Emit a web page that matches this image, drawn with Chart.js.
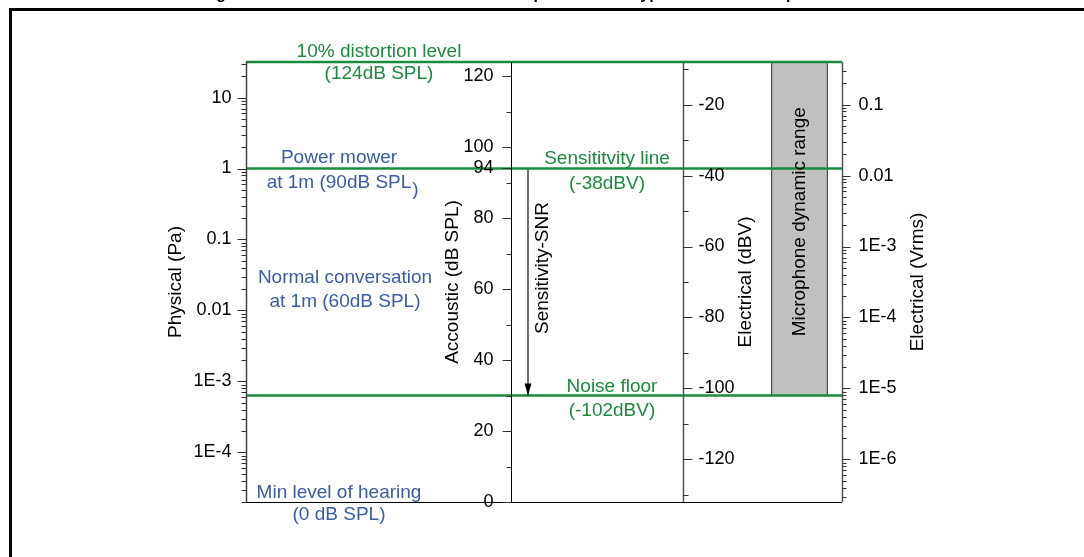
<!DOCTYPE html>
<html>
<head>
<meta charset="utf-8">
<script src="https://cdn.jsdelivr.net/npm/chart.js@4/dist/chart.umd.min.js"></script>
<style>
body{margin:0;background:#fff;width:1084px;height:557px;overflow:hidden;position:relative}
#frame{position:absolute;left:9px;top:8px;width:1200px;height:700px;border-left:3px solid #000;border-top:3px solid #000}
#chart{position:absolute;left:0;top:0}
</style>
</head>
<body>
<div id="frame"></div>
<canvas id="chart" width="1084" height="557"></canvas>
<script>
// levels, in dB SPL
const splRange = [0, 124]
const sensitivitySpl = 94
const sensitivityDbv = -38
const levelSpl = [124, 94, 30]
const levelTitles = ["10% distortion level", "Sensititvity line", "Noise floor"]
const levelNotes = ["(124dB SPL)", "(-38dBV)", "(-102dBV)"]
const exampleSpl = [90, 60, 0]
const exampleTitles = ["Power mower", "Normal conversation", "Min level of hearing"]
const exampleNotes = ["at 1m (90dB SPL)", "at 1m (60dB SPL)", "(0 dB SPL)"]
const dynamicRange = [30, 124]
const snrRange = [94, 30]

// tick labels
const paTicks = [1e-4, 1e-3, 0.01, 0.1, 1, 10]
const paLabels = ["1E-4", "1E-3", "0.01", "0.1", "1", "10"]
const splTicks = [0, 20, 40, 60, 80, 94, 100, 120]
const splMinor = [10, 30, 50, 70, 90, 110]
const dbvTicks = [-120, -100, -80, -60, -40, -20]
const dbvMinor = [-130, -110, -90, -70, -50, -30, -10]
const vrmsTicks = [1e-6, 1e-5, 1e-4, 1e-3, 0.01, 0.1]
const vrmsLabels = ["1E-6", "1E-5", "1E-4", "1E-3", "0.01", "0.1"]

const caption = "Figure 3. Acoustic and electrical levels comparison for a typical MEMS microphone"

// unit conversions for the four vertical scales
const dbvOffset = sensitivityDbv - sensitivitySpl
const paFromSpl = s => 20e-6 * Math.pow(10, s / 20)
const vFromDbv = d => Math.pow(10, d / 20)

// layout (x in chart units, chart area is 596 wide)
const L = {
  splAxisX: 265, dbvAxisX: 437, arrowX: 282, barX: 553.5, barW: 56,
  levelX: [133, 361, 366], levelDy: [[-10.5, 11.5], [-10, 15], [-9, 15]],
  exampleX: [93, 99, 93], exampleDy: [[-25, 0], [-11, 13], [-9, 13]]
}

const GREEN = "#1b8a3e"
const BLUE = "#3b5ba7"
const FONT = "'Liberation Sans', Arial, sans-serif"

function logMinor(min, max) {
  let out = []
  for (let e = Math.floor(Math.log10(min)); e <= Math.ceil(Math.log10(max)); e++) {
    for (let k = 2; k <= 9; k++) {
      let v = k * Math.pow(10, e)
      if (v >= min * 0.999 && v <= max * 1.001) out.push(v)
    }
  }
  return out
}

const axes = [
  {id: "yPa", at: c => c.chartArea.left, side: -1, ticks: paTicks, labels: paLabels,
   minor: logMinor(paFromSpl(splRange[0]), paFromSpl(splRange[1])), color: "#444", width: 1.5,
   major: 9, small: 5, gap: 15, title: "Physical (Pa)", titleDx: -71},
  {id: "yS", at: c => c.scales.x.getPixelForValue(L.splAxisX), side: -1, ticks: splTicks,
   labels: splTicks.map(String), minor: splMinor, color: "#000", width: 1,
   major: 9, small: 5, gap: 18, title: "Accoustic (dB SPL)", titleDx: -59},
  {id: "yDbv", at: c => c.scales.x.getPixelForValue(L.dbvAxisX), side: 1, ticks: dbvTicks,
   labels: dbvTicks.map(String), minor: dbvMinor, color: "#555", width: 1.5,
   major: 9, small: 5, gap: 15, title: "Electrical (dBV)", titleDx: 62},
  {id: "yV", at: c => c.chartArea.right, side: 1, ticks: vrmsTicks, labels: vrmsLabels,
   minor: logMinor(vFromDbv(splRange[0] + dbvOffset), vFromDbv(splRange[1] + dbvOffset)),
   color: "#555", width: 1.5, major: 8, small: 4, gap: 16, title: "Electrical (Vrms)", titleDx: 75}
]

function vText(ctx, text, x, y) {
  ctx.save()
  ctx.translate(x, y)
  ctx.rotate(-Math.PI / 2)
  ctx.fillText(text, 0, 0)
  ctx.restore()
}

const axesPlugin = {
  id: "axes",
  afterDraw(chart) {
    const ctx = chart.ctx
    const area = chart.chartArea
    const mid = (area.top + area.bottom) / 2
    ctx.save()
    ctx.lineWidth = 1
    ctx.strokeStyle = "#000"
    ctx.beginPath()
    ctx.moveTo(area.left, Math.round(area.bottom) + 0.5)
    ctx.lineTo(area.right, Math.round(area.bottom) + 0.5)
    ctx.stroke()
    axes.forEach(a => {
      const scale = chart.scales[a.id]
      const x = Math.round(a.at(chart)) + 0.5
      ctx.strokeStyle = a.color
      ctx.lineWidth = a.width
      ctx.beginPath()
      ctx.moveTo(x, area.top)
      ctx.lineTo(x, area.bottom)
      ctx.stroke()
      ctx.lineWidth = 1
      ctx.strokeStyle = "#333"
      ctx.beginPath()
      a.minor.forEach(v => {
        const y = Math.round(scale.getPixelForValue(v)) + 0.5
        ctx.moveTo(x, y)
        ctx.lineTo(x + a.side * a.small, y)
      })
      a.ticks.forEach(v => {
        const y = Math.round(scale.getPixelForValue(v)) + 0.5
        ctx.moveTo(x, y)
        ctx.lineTo(x + a.side * a.major, y)
      })
      ctx.stroke()
      ctx.fillStyle = "#000"
      ctx.font = "18px " + FONT
      ctx.textBaseline = "middle"
      ctx.textAlign = a.side < 0 ? "right" : "left"
      a.ticks.forEach((v, i) => {
        ctx.fillText(a.labels[i], x + a.side * a.gap, scale.getPixelForValue(v))
      })
      ctx.font = "19px " + FONT
      ctx.textAlign = "center"
      vText(ctx, a.title, x + a.titleDx, mid)
    })
    ctx.restore()
  }
}

const textPlugin = {
  id: "notes",
  afterDraw(chart) {
    const ctx = chart.ctx
    const xs = chart.scales.x
    const ys = chart.scales.yS
    ctx.save()
    ctx.font = "19px " + FONT
    ctx.textAlign = "center"
    ctx.textBaseline = "middle"

    ctx.fillStyle = GREEN
    levelSpl.forEach((s, i) => {
      const x = xs.getPixelForValue(L.levelX[i])
      const y = ys.getPixelForValue(s)
      ctx.fillText(levelTitles[i], x, y + L.levelDy[i][0])
      ctx.fillText(levelNotes[i], x, y + L.levelDy[i][1])
    })

    ctx.fillStyle = BLUE
    exampleSpl.forEach((s, i) => {
      const x = xs.getPixelForValue(L.exampleX[i])
      const y = ys.getPixelForValue(s)
      ctx.fillText(exampleTitles[i], x, y + L.exampleDy[i][0])
      let note = exampleNotes[i]
      if (i == 0) {
        // the closing bracket sits a bit low in the original
        const body = note.slice(0, -1)
        const w = ctx.measureText(body).width
        ctx.fillText(body, x, y + L.exampleDy[i][1])
        ctx.textAlign = "left"
        ctx.fillText(")", x + w / 2 + 1, y + L.exampleDy[i][1] + 7)
        ctx.textAlign = "center"
      } else {
        ctx.fillText(note, x, y + L.exampleDy[i][1])
      }
    })

    ctx.fillStyle = "#000"
    const barTop = ys.getPixelForValue(dynamicRange[1])
    const barBottom = ys.getPixelForValue(dynamicRange[0])
    vText(ctx, "Microphone dynamic range", xs.getPixelForValue(L.barX), (barTop + barBottom) / 2 - 7)

    // arrow head at the end of the SNR line
    const meta = chart.getDatasetMeta(levelSpl.length)
    const end = meta.data[1]
    ctx.beginPath()
    ctx.moveTo(end.x, end.y)
    ctx.lineTo(end.x - 3.5, end.y - 12)
    ctx.lineTo(end.x + 3.5, end.y - 12)
    ctx.closePath()
    ctx.fill()
    const start = meta.data[0]
    vText(ctx, "Sensitivity-SNR", end.x + 15, (start.y + end.y) / 2 - 14)

    ctx.font = "bold 16px " + FONT
    ctx.textBaseline = "alphabetic"
    ctx.fillText(caption, 518, -1.5)
    ctx.restore()
  }
}

const lineSets = levelSpl.map(s => ({
  data: [{x: 0, y: s}, {x: 596, y: s}],
  yAxisID: "yS",
  borderColor: GREEN,
  borderWidth: 2.5,
  pointRadius: 0,
  clip: false
}))

new Chart(document.getElementById("chart"), {
  type: "line",
  data: {
    datasets: [
      ...lineSets,
      {
        data: [{x: L.arrowX, y: snrRange[0]}, {x: L.arrowX, y: snrRange[1]}],
        yAxisID: "yS",
        borderColor: "#111",
        borderWidth: 1.2,
        pointRadius: 0
      },
      {
        type: "bar",
        data: [{x: L.barX, y: dynamicRange}],
        yAxisID: "yS",
        backgroundColor: "#c0c0c0",
        borderColor: "#000",
        borderWidth: 1,
        borderSkipped: false,
        barThickness: L.barW,
        grouped: false
      }
    ]
  },
  options: {
    responsive: false,
    animation: false,
    devicePixelRatio: 1,
    events: [],
    layout: {padding: {left: 246, right: 242, top: 62, bottom: 55}},
    plugins: {legend: {display: false}, tooltip: {enabled: false}},
    scales: {
      x: {type: "linear", min: 0, max: 596, display: false, offset: false},
      yS: {type: "linear", min: splRange[0], max: splRange[1], display: false},
      yPa: {type: "logarithmic", min: paFromSpl(splRange[0]), max: paFromSpl(splRange[1]), display: false},
      yDbv: {type: "linear", min: splRange[0] + dbvOffset, max: splRange[1] + dbvOffset, display: false},
      yV: {type: "logarithmic", min: vFromDbv(splRange[0] + dbvOffset), max: vFromDbv(splRange[1] + dbvOffset), display: false}
    }
  },
  plugins: [axesPlugin, textPlugin]
})
</script>
</body>
</html>
